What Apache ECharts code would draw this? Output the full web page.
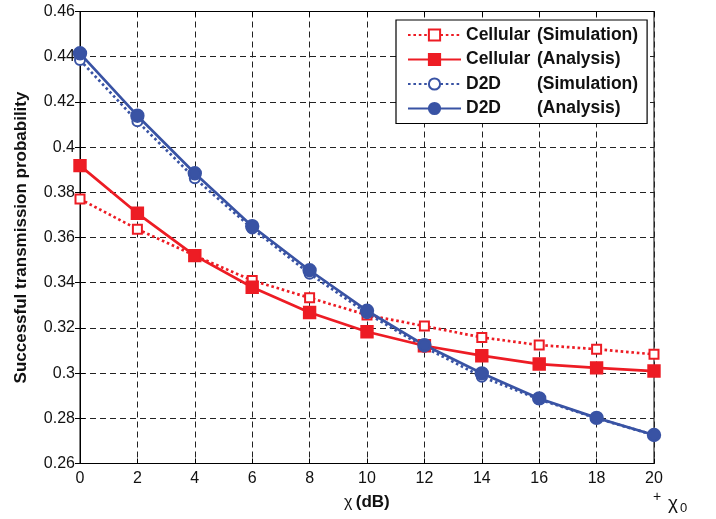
<!DOCTYPE html>
<html><head><meta charset="utf-8">
<script src="https://cdn.jsdelivr.net/npm/echarts@6/dist/echarts.min.js"></script>
<style>html,body{margin:0;padding:0;background:#fff}#c{width:716px;height:519px}</style>
</head><body><div id="c"></div>
<script>
const xValues = [0, 2, 4, 6, 8, 10, 12, 14, 16, 18, 20];
const cellularSim = [0.3770, 0.3637, 0.3520, 0.3410, 0.3333, 0.3257, 0.3208, 0.3158, 0.3124, 0.3106, 0.3083];
const cellularAna = [0.3918, 0.3707, 0.3520, 0.3380, 0.3268, 0.3183, 0.3121, 0.3077, 0.3040, 0.3023, 0.3009];
const d2dSim = [0.4385, 0.4114, 0.3862, 0.3640, 0.3440, 0.3265, 0.3115, 0.2984, 0.2884, 0.2800, 0.2726];
const d2dAna = [0.4415, 0.4139, 0.3884, 0.3650, 0.3455, 0.3276, 0.3124, 0.2999, 0.2888, 0.2802, 0.2726];
const seriesNames = ['Cellular (Simulation)', 'Cellular (Analysis)', 'D2D (Simulation)', 'D2D (Analysis)'];
const xTicks = {min: 0, max: 20, step: 2};
const yTicks = {min: 0.26, max: 0.46, step: 0.02};

const RED = '#ed1c24', BLUE = '#3953a4';
const pairs = a => xValues.map((x, i) => [x, a[i]]);
const chart = echarts.init(document.getElementById('c'), null, {renderer: 'canvas'});
const font = 'Liberation Sans, Arial, sans-serif';

function mk(name, data, color, dotted, symbol, size) {
  return {
    name, type: 'line', data: pairs(data), symbol, symbolSize: size,
    lineStyle: {color, width: 2.7, type: dotted ? [2.6, 2.8] : 'solid'},
    itemStyle: {color, borderColor: color, borderWidth: 2.4},
    emphasis: {disabled: true}, animation: false, z: dotted ? 3 : 4
  };
}
const gridLine = {show: true, lineStyle: {color: '#222', type: [6, 4], width: 1}};
const tick = {show: true, inside: true, length: 5, lineStyle: {color: '#000'}};

chart.setOption({
  animation: false,
  grid: {left: 80, right: 62, top: 11.5, bottom: 55.5, show: true, borderColor: '#000', borderWidth: 1, backgroundColor: 'transparent'},
  xAxis: [{
    type: 'value', min: xTicks.min, max: xTicks.max, interval: xTicks.step,
    axisLine: {show: true, lineStyle: {color: '#000'}}, axisTick: tick,
    axisLabel: {color: '#111', fontSize: 16, fontFamily: font, margin: 7},
    splitLine: gridLine
  }, {
    type: 'value', position: 'top', min: xTicks.min, max: xTicks.max, interval: xTicks.step,
    axisLine: {show: true, lineStyle: {color: '#000'}}, axisTick: tick,
    axisLabel: {show: false}, splitLine: {show: false}
  }],
  yAxis: [{
    type: 'value', min: yTicks.min, max: yTicks.max, interval: yTicks.step,
    name: 'Successful transmission probability', nameLocation: 'middle', nameGap: 50,
    nameTextStyle: {color: '#111', fontSize: 17, fontWeight: 'bold', fontFamily: font},
    axisLine: {show: true, lineStyle: {color: '#000'}}, axisTick: tick,
    axisLabel: {color: '#111', fontSize: 16, fontFamily: font, margin: 5,
      formatter: v => String(parseFloat(v.toFixed(2)))},
    splitLine: gridLine
  }, {
    type: 'value', position: 'right', min: yTicks.min, max: yTicks.max, interval: yTicks.step,
    axisLine: {show: true, lineStyle: {color: '#000'}}, axisTick: tick,
    axisLabel: {show: false}, splitLine: {show: false}
  }],
  legend: {
    orient: 'vertical', left: 396, top: 20, data: seriesNames,
    itemWidth: 53, itemHeight: 14, itemGap: 6.5,
    backgroundColor: '#fff', borderColor: '#000', borderWidth: 1.2,
    padding: [6, 9, 6, 11],
    textStyle: {color: '#111', fontSize: 17.5, fontWeight: 'bold', fontFamily: font,
      rich: {a: {width: 71, fontSize: 17.5, lineHeight: 18, fontWeight: 'bold', fontFamily: font, color: '#111'},
             b: {fontSize: 17.5, lineHeight: 18, fontWeight: 'bold', fontFamily: font, color: '#111'}}},
    formatter: n => { const i = n.indexOf(' ('); return '{a|' + n.slice(0, i) + '}{b|' + n.slice(i + 1) + '}'; }
  },
  series: [
    mk(seriesNames[0], cellularSim, RED, true, 'emptyRect', 9),
    mk(seriesNames[1], cellularAna, RED, false, 'rect', 11),
    mk(seriesNames[2], d2dSim, BLUE, true, 'emptyCircle', 10),
    mk(seriesNames[3], d2dAna, BLUE, false, 'circle', 12)
  ],
  graphic: [
    {type: 'text', left: 344, top: 494, style: {
      text: '{c|χ} {d|(dB)}', rich: {c: {fontSize: 16, fontFamily: font, fill: '#111'},
        d: {fontSize: 17, fontWeight: 'bold', fontFamily: font, fill: '#111'}}}},
    {type: 'text', left: 653, top: 490, style: {text: '+', fontSize: 14, fontFamily: font, fill: '#111'}},
    {type: 'text', left: 668, top: 494, style: {text: 'χ', fontSize: 19, fontFamily: font, fill: '#111'}},
    {type: 'text', left: 680, top: 502, style: {text: '0', fontSize: 13, fontFamily: font, fill: '#111'}}
  ]
});
</script></body></html>
